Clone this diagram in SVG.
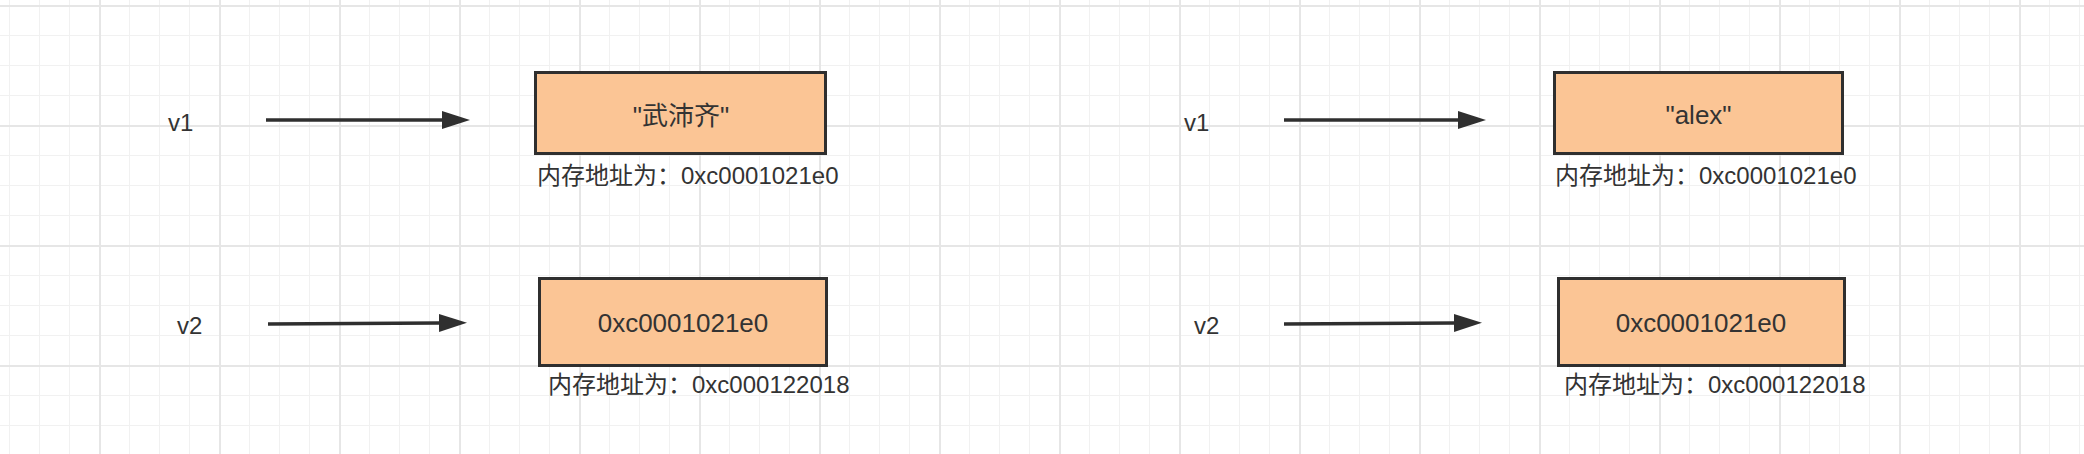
<svg xmlns="http://www.w3.org/2000/svg" width="2084" height="454" viewBox="0 0 2084 454">
  <style>
    .box { fill: #FBC595; stroke: #2f2f2f; stroke-width: 3; }
    .txt { font-family: "Liberation Sans", "Noto Sans CJK SC", sans-serif; fill: #333333; }
    .var { font-size: 24px; }
    .val { font-size: 26px; text-anchor: middle; }
    .lbl { font-size: 24px; }
    .edge { stroke: #2f2f2f; stroke-width: 3.5; fill: none; }
  </style>
  <defs>
    <pattern id="grid" patternUnits="userSpaceOnUse" x="9" y="5" width="120" height="120">
      <rect x="0" y="0" width="1" height="120" fill="#f1f1f1"/>
      <rect x="30" y="0" width="1" height="120" fill="#f1f1f1"/>
      <rect x="60" y="0" width="1" height="120" fill="#f1f1f1"/>
      <rect x="0" y="30" width="120" height="1" fill="#f1f1f1"/>
      <rect x="0" y="60" width="120" height="1" fill="#f1f1f1"/>
      <rect x="0" y="90" width="120" height="1" fill="#f1f1f1"/>
      <rect x="90" y="0" width="2" height="120" fill="#e6e6e6"/>
      <rect x="0" y="0" width="120" height="2" fill="#e6e6e6"/>
    </pattern>
    <marker id="arrow" markerUnits="userSpaceOnUse" markerWidth="30" markerHeight="20" refX="0" refY="9" orient="auto">
      <path d="M0,0 L28,9 L0,18 Z" fill="#2f2f2f"/>
    </marker>
  </defs>

  <rect x="0" y="0" width="2084" height="454" fill="#ffffff"/>
  <rect x="0" y="0" width="2084" height="454" fill="url(#grid)"/>

  <g id="connectors">
    <line class="edge" x1="266" y1="120" x2="442" y2="120" marker-end="url(#arrow)"/>
    <line class="edge" x1="268" y1="324" x2="439" y2="323" marker-end="url(#arrow)"/>
    <line class="edge" x1="1284" y1="120" x2="1458" y2="120" marker-end="url(#arrow)"/>
    <line class="edge" x1="1284" y1="324" x2="1454" y2="323" marker-end="url(#arrow)"/>
  </g>

  <g id="left-v1">
    <text class="txt var" x="168" y="131">v1</text>
  </g>
  <g id="left-v2">
    <text class="txt var" x="177" y="334">v2</text>
  </g>
  <g id="left-box1">
    <rect class="box" x="535.5" y="72.5" width="290" height="81"/>
    <text class="txt val" x="681" y="125">"武沛齐"</text>
    <text class="txt lbl" x="537" y="184">内存地址为：0xc0001021e0</text>
  </g>
  <g id="left-box2">
    <rect class="box" x="539.5" y="278.5" width="287" height="87"/>
    <text class="txt val" x="683" y="332">0xc0001021e0</text>
    <text class="txt lbl" x="548" y="393">内存地址为：0xc000122018</text>
  </g>

  <g id="right-v1">
    <text class="txt var" x="1184" y="131">v1</text>
  </g>
  <g id="right-v2">
    <text class="txt var" x="1194" y="334">v2</text>
  </g>
  <g id="right-box1">
    <rect class="box" x="1554.5" y="72.5" width="288" height="81"/>
    <text class="txt val" x="1698.5" y="124">"alex"</text>
    <text class="txt lbl" x="1555" y="183.5">内存地址为：0xc0001021e0</text>
  </g>
  <g id="right-box2">
    <rect class="box" x="1558.5" y="278.5" width="286" height="87"/>
    <text class="txt val" x="1701" y="332">0xc0001021e0</text>
    <text class="txt lbl" x="1564" y="393">内存地址为：0xc000122018</text>
  </g>
</svg>
